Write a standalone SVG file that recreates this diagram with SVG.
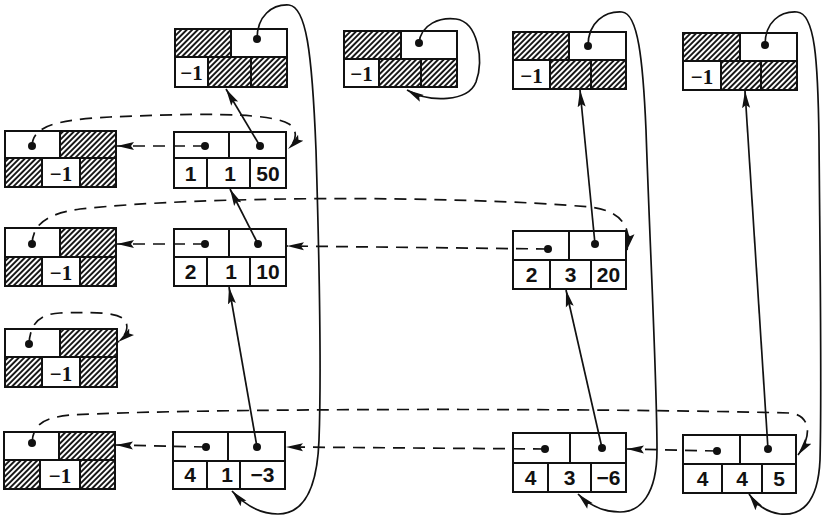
<svg xmlns="http://www.w3.org/2000/svg" width="825" height="517" viewBox="0 0 825 517">
<defs>
<pattern id="hatch" patternUnits="userSpaceOnUse" width="3.9" height="3.9" patternTransform="rotate(45)">
<rect width="3.9" height="3.9" fill="#fff"/>
<line x1="1" y1="0" x2="1" y2="3.9" stroke="#111" stroke-width="1.9"/>
</pattern>
<marker id="arr" markerUnits="userSpaceOnUse" markerWidth="19" markerHeight="12" refX="17" refY="6" orient="auto">
<path d="M0,2 L17,6 L0,10 L3,6 z" fill="#111"/>
</marker>
</defs>
<style>
.box{fill:#fff;stroke:#111;stroke-width:2}
.h{fill:url(#hatch);stroke:#111;stroke-width:2}
.dot{fill:#111}
.num{font-family:"Liberation Sans",Arial,sans-serif;font-weight:bold;font-size:21px;fill:#111;text-anchor:middle}
.m1{font-family:"Liberation Serif","Times New Roman",serif;font-weight:bold;font-size:21px;fill:#111;text-anchor:middle}
.sol{fill:none;stroke:#111;stroke-width:1.7;marker-end:url(#arr)}
.dash{fill:none;stroke:#111;stroke-width:1.7;stroke-dasharray:12 8;marker-end:url(#arr)}
</style>
<rect width="825" height="517" fill="#fff"/>

<!-- header nodes -->
<g id="h1">
<rect class="h" x="175" y="29" width="56" height="28"/><rect class="box" x="231" y="29" width="56" height="28"/>
<rect class="box" x="175" y="57" width="33" height="30"/><rect class="h" x="208" y="57" width="43" height="30"/><rect class="h" x="251" y="57" width="36" height="30"/>
<circle class="dot" cx="257" cy="39" r="4"/><text class="m1" x="191.5" y="80">−1</text>
</g>
<g id="h2">
<rect class="h" x="344" y="31" width="57" height="28"/><rect class="box" x="401" y="31" width="56" height="28"/>
<rect class="box" x="344" y="59" width="35" height="28"/><rect class="h" x="379" y="59" width="42" height="28"/><rect class="h" x="421" y="59" width="36" height="28"/>
<circle class="dot" cx="419" cy="43" r="4"/><text class="m1" x="361.5" y="81">−1</text>
</g>
<g id="h3">
<rect class="h" x="513" y="32" width="56" height="28"/><rect class="box" x="569" y="32" width="57" height="28"/>
<rect class="box" x="513" y="60" width="37" height="29"/><rect class="h" x="550" y="60" width="41" height="29"/><rect class="h" x="591" y="60" width="35" height="29"/>
<circle class="dot" cx="588" cy="46" r="4"/><text class="m1" x="531.5" y="83">−1</text>
</g>
<g id="h4">
<rect class="h" x="683" y="33" width="57" height="28"/><rect class="box" x="740" y="33" width="57" height="28"/>
<rect class="box" x="683" y="61" width="38" height="29"/><rect class="h" x="721" y="61" width="40" height="29"/><rect class="h" x="761" y="61" width="36" height="29"/>
<circle class="dot" cx="765" cy="45" r="4"/><text class="m1" x="702" y="84">−1</text>
</g>

<!-- left nodes -->
<g id="l1">
<rect class="box" x="5" y="131" width="55" height="27"/><rect class="h" x="60" y="131" width="56" height="27"/>
<rect class="h" x="5" y="158" width="37" height="29"/><rect class="box" x="42" y="158" width="38" height="29"/><rect class="h" x="80" y="158" width="36" height="29"/>
<circle class="dot" cx="32" cy="146" r="4"/><text class="m1" x="61" y="181">−1</text>
</g>
<g id="l2">
<rect class="box" x="5" y="228" width="55" height="29"/><rect class="h" x="60" y="228" width="56" height="29"/>
<rect class="h" x="5" y="257" width="37" height="29"/><rect class="box" x="42" y="257" width="38" height="29"/><rect class="h" x="80" y="257" width="36" height="29"/>
<circle class="dot" cx="32" cy="244" r="4"/><text class="m1" x="61" y="280">−1</text>
</g>
<g id="l3">
<rect class="box" x="5" y="329" width="55" height="28"/><rect class="h" x="60" y="329" width="57" height="28"/>
<rect class="h" x="5" y="357" width="37" height="30"/><rect class="box" x="42" y="357" width="38" height="30"/><rect class="h" x="80" y="357" width="37" height="30"/>
<circle class="dot" cx="29" cy="344" r="4"/><text class="m1" x="61" y="381">−1</text>
</g>
<g id="l4">
<rect class="box" x="4" y="432" width="55" height="28"/><rect class="h" x="59" y="432" width="56" height="28"/>
<rect class="h" x="4" y="460" width="36" height="29"/><rect class="box" x="40" y="460" width="40" height="29"/><rect class="h" x="80" y="460" width="35" height="29"/>
<circle class="dot" cx="32" cy="443" r="4"/><text class="m1" x="60" y="483">−1</text>
</g>

<!-- data nodes -->
<g id="d1">
<rect class="box" x="174" y="132" width="55" height="26"/><rect class="box" x="229" y="132" width="57" height="26"/>
<rect class="box" x="174" y="158" width="33" height="30"/><rect class="box" x="207" y="158" width="43" height="30"/><rect class="box" x="250" y="158" width="36" height="30"/>
<circle class="dot" cx="205" cy="146" r="4"/><circle class="dot" cx="260" cy="146" r="4"/>
<text class="num" x="190.5" y="181">1</text><text class="num" x="230" y="181">1</text><text class="num" x="268" y="181">50</text>
</g>
<g id="d2">
<rect class="box" x="174" y="229" width="55" height="28"/><rect class="box" x="229" y="229" width="57" height="28"/>
<rect class="box" x="174" y="257" width="33" height="29"/><rect class="box" x="207" y="257" width="43" height="29"/><rect class="box" x="250" y="257" width="36" height="29"/>
<circle class="dot" cx="205" cy="244" r="4"/><circle class="dot" cx="258" cy="244" r="4"/>
<text class="num" x="190.5" y="279">2</text><text class="num" x="231" y="279">1</text><text class="num" x="268" y="279">10</text>
</g>
<g id="d3">
<rect class="box" x="513" y="231" width="56" height="29"/><rect class="box" x="569" y="231" width="57" height="29"/>
<rect class="box" x="513" y="260" width="37" height="29"/><rect class="box" x="550" y="260" width="41" height="29"/><rect class="box" x="591" y="260" width="35" height="29"/>
<circle class="dot" cx="548" cy="249" r="4"/><circle class="dot" cx="595" cy="244" r="4"/>
<text class="num" x="531.5" y="282">2</text><text class="num" x="570.5" y="282">3</text><text class="num" x="608.5" y="282">20</text>
</g>
<g id="d4">
<rect class="box" x="173" y="432" width="55" height="29"/><rect class="box" x="228" y="432" width="57" height="29"/>
<rect class="box" x="173" y="461" width="34" height="28"/><rect class="box" x="207" y="461" width="33" height="28"/><rect class="box" x="240" y="461" width="45" height="28"/>
<circle class="dot" cx="206" cy="447" r="4"/><circle class="dot" cx="257" cy="447" r="4"/>
<text class="num" x="190" y="482">4</text><text class="num" x="227" y="482">1</text><text class="num" x="262.5" y="482">−3</text>
</g>
<g id="d5">
<rect class="box" x="513" y="433" width="57" height="30"/><rect class="box" x="570" y="433" width="56" height="30"/>
<rect class="box" x="513" y="463" width="35" height="29"/><rect class="box" x="548" y="463" width="43" height="29"/><rect class="box" x="591" y="463" width="35" height="29"/>
<circle class="dot" cx="545" cy="449" r="4"/><circle class="dot" cx="602" cy="448" r="4"/>
<text class="num" x="530.5" y="485">4</text><text class="num" x="569.5" y="485">3</text><text class="num" x="608.5" y="485">−6</text>
</g>
<g id="d6">
<rect class="box" x="683" y="435" width="57" height="29"/><rect class="box" x="740" y="435" width="56" height="29"/>
<rect class="box" x="683" y="464" width="39" height="29"/><rect class="box" x="722" y="464" width="40" height="29"/><rect class="box" x="762" y="464" width="34" height="29"/>
<circle class="dot" cx="717" cy="451" r="4"/><circle class="dot" cx="768" cy="449" r="4"/>
<text class="num" x="702.5" y="486">4</text><text class="num" x="742" y="486">4</text><text class="num" x="779" y="486">5</text>
</g>

<g id="connectors">
<!-- header loops -->
<path class="sol" d="M257,39 C257,16 272,4 289,5 C306,7 312,50 316,150 C319,250 322,360 319,440 C317,495 300,514 278,514 C258,514 243,503 232,491"/>
<path class="sol" d="M419,43 C421,24 440,17 456,19 C478,22 484,60 476,82 C468,102 430,103 407,90"/>
<path class="sol" d="M588,46 C588,22 605,11 622,12 C638,13 643,60 646,130 C650,250 657,380 657,450 C657,495 640,512 620,512 C600,512 587,503 578,494"/>
<path class="sol" d="M765,45 C765,22 780,11 797,12 C815,13 818,60 819,140 C820,260 822,390 820,460 C818,505 800,516 780,514 C766,512 756,504 749,494"/>
<!-- vertical links -->
<path class="sol" d="M260,146 L226,89"/>
<path class="sol" d="M258,244 L230,189"/>
<path class="sol" d="M257,447 L229,287"/>
<path class="sol" d="M595,244 L580,90"/>
<path class="sol" d="M602,448 L566,290"/>
<path class="sol" d="M768,449 L745,91"/>
<!-- horizontal dashed links -->
<path class="dash" d="M205,146 L117,146"/>
<path class="dash" d="M205,244 L117,244"/>
<path class="dash" d="M548,249 L287,246"/>
<path class="dash" d="M206,447 L116,445"/>
<path class="dash" d="M545,449 L286,447"/>
<path class="dash" d="M717,451 L627,449"/>
<!-- dashed curves -->
<path class="dash" d="M32,146 C33,126 55,120 110,117 C180,114 268,111 289,124 C298,130 297,141 288,149"/>
<path class="dash" d="M32,244 C33,225 45,214 80,209 C200,196 450,195 590,207 C615,210 633,222 627,250"/>
<path class="dash" d="M29,344 C30,325 38,314 60,313 C90,312 115,312 124,319 C130,326 126,336 118,342"/>
<path class="dash" d="M32,443 C33,425 42,418 70,415 C200,408 600,408 790,413 C810,415 813,435 798,455"/>
</g>
</svg>
